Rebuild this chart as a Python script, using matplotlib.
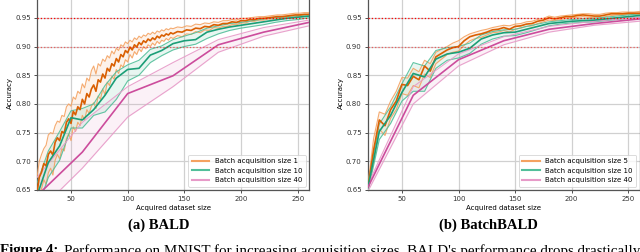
import numpy as np
import matplotlib
matplotlib.use("Agg")
import matplotlib.pyplot as plt
from matplotlib.lines import Line2D

# ---------------- data (accuracy in thousandths) ----------------
# BALD, acquisition size 1
bald1_x = list(range(20, 141, 2)) + list(range(144, 261, 4))
bald1_mean = [645, 672, 681, 696, 692, 712, 718, 711, 733, 741, 736, 752, 749, 768, 774, 766, 787, 781, 795, 790,
              808, 800, 818, 812, 826, 833, 822, 842, 838, 852, 845, 862, 857, 870, 866, 879, 873, 886, 882, 893,
              889, 899, 894, 903, 899, 907, 903, 910, 907, 913, 910, 915, 912, 918, 915, 920, 918, 922, 920, 924, 922,
              926, 925, 929, 928, 932, 931, 935, 934, 938, 937, 940, 940, 943, 942, 945, 945, 947, 947, 949, 949,
              950, 951, 952, 952, 953, 954, 955, 955, 956, 956]
bald1_upper = [672, 700, 712, 722, 728, 746, 750, 748, 762, 770, 768, 780, 778, 795, 800, 796, 812, 808, 822, 818,
               835, 828, 845, 840, 858, 866, 852, 870, 866, 878, 874, 884, 880, 892, 887, 897, 893, 903, 900, 908,
               905, 911, 908, 915, 912, 918, 915, 920, 918, 923, 921, 925, 922, 927, 925, 929, 927, 931, 929, 932, 931,
               934, 933, 936, 935, 939, 938, 941, 940, 943, 942, 945, 945, 947, 946, 949, 949, 950, 951, 952, 952,
               953, 954, 955, 955, 956, 957, 958, 958, 959, 959]
bald1_lower = [618, 640, 652, 668, 660, 680, 688, 676, 702, 712, 704, 722, 718, 740, 748, 736, 760, 752, 768, 762,
               780, 772, 790, 783, 796, 802, 792, 814, 808, 826, 816, 838, 832, 848, 843, 860, 853, 868, 864, 877,
               873, 886, 880, 891, 886, 896, 891, 900, 896, 903, 900, 906, 902, 909, 905, 911, 909, 914, 911, 916, 914,
               919, 917, 922, 921, 926, 924, 929, 928, 933, 932, 935, 935, 938, 938, 941, 941, 944, 944, 946, 946,
               948, 948, 949, 950, 951, 951, 952, 953, 953, 953]

# BALD, acquisition size 10
bald10_x = list(range(20, 261, 10))
bald10_mean = [640, 698, 727, 776, 772, 790, 815, 845, 860, 862, 885, 893, 905, 910, 912, 925, 930, 934, 937, 940,
               943, 946, 949, 951, 953]
bald10_upper = [662, 718, 752, 788, 792, 800, 832, 856, 868, 876, 895, 901, 912, 918, 924, 932, 936, 940, 942, 945,
                948, 950, 952, 954, 956]
bald10_lower = [615, 672, 702, 758, 758, 780, 786, 808, 840, 850, 872, 884, 894, 900, 904, 914, 922, 928, 932, 935,
                938, 942, 945, 947, 950]

# BALD, acquisition size 40
bald40_x = list(range(20, 261, 40))
bald40_mean = [640, 716, 818, 849, 903, 925, 942]
bald40_upper = [672, 768, 830, 872, 912, 933, 946]
bald40_lower = [610, 688, 777, 830, 890, 918, 936]

# BatchBALD, acquisition size 5
bb5_x = list(range(20, 261, 5))
bb5_mean = [655, 720, 772, 762, 790, 805, 834, 832, 848, 842, 866, 857, 882, 888, 894, 898, 900, 910, 917, 920,
            922, 925, 929, 930, 933, 930, 935, 936, 939, 940, 944, 946, 950, 948, 950, 952, 952, 954, 955, 954,
            953, 953, 955, 957, 957, 957, 958, 958, 958]
bb5_upper = [660, 740, 786, 782, 805, 822, 846, 845, 862, 856, 876, 870, 890, 895, 900, 906, 910, 917, 922, 925,
             928, 930, 933, 935, 937, 936, 939, 940, 943, 944, 947, 949, 953, 951, 953, 954, 955, 956, 957, 957,
             956, 956, 958, 959, 959, 960, 960, 960, 961]
bb5_lower = [650, 700, 756, 745, 775, 790, 818, 815, 832, 828, 852, 846, 870, 878, 886, 890, 892, 902, 910, 914,
             916, 920, 924, 925, 928, 925, 930, 932, 935, 936, 940, 943, 946, 945, 947, 949, 950, 951, 952, 951,
             950, 950, 952, 954, 955, 955, 956, 956, 956]

# BatchBALD, acquisition size 10
bb10_x = list(range(20, 261, 10))
bb10_mean = [655, 752, 780, 820, 853, 847, 878, 887, 890, 897, 913, 920, 924, 925, 930, 935, 940, 942, 944, 945,
             946, 948, 950, 952, 954]
bb10_upper = [662, 765, 795, 835, 872, 866, 893, 898, 900, 906, 920, 926, 929, 930, 935, 939, 943, 945, 947, 948,
              949, 951, 953, 955, 957]
bb10_lower = [648, 738, 766, 805, 822, 822, 862, 876, 880, 888, 904, 913, 918, 919, 924, 930, 936, 939, 941, 942,
              943, 945, 947, 949, 951]

# BatchBALD, acquisition size 40
bb40_x = list(range(20, 261, 40))
bb40_mean = [655, 815, 877, 910, 930, 940, 948]
bb40_upper = [660, 830, 887, 917, 935, 944, 951]
bb40_lower = [648, 800, 866, 903, 925, 937, 944]

bald_labels = ["Batch acquisition size 1", "Batch acquisition size 10", "Batch acquisition size 40"]
bb_labels = ["Batch acquisition size 5", "Batch acquisition size 10", "Batch acquisition size 40"]
x_ticks = [50, 100, 150, 200, 250]
y_ticks = [0.65, 0.70, 0.75, 0.80, 0.85, 0.90, 0.95]

# ---------------- styling ----------------
dark = ["#d95f02", "#1b9e77", "#cc4c9c"]
light = ["#f4a261", "#52bf9a", "#e79ac8"]

plt.rcParams["font.family"] = ["DejaVu Sans"]
fig = plt.figure(figsize=(6.4, 2.52), dpi=100)

W, H = 640.0, 252.0
def axes_px(x0, x1, ytop, ybot):
    return fig.add_axes([x0 / W, 1 - ybot / H, (x1 - x0) / W, (ybot - ytop) / H])

ax1 = axes_px(37, 309, -4, 190)
ax2 = axes_px(368, 639.5, -4, 190)

def draw(ax, series, labels):
    for i, (xs, m, u, l) in enumerate(series):
        xs = np.asarray(xs)
        m = np.asarray(m) / 1000.0
        u = np.asarray(u) / 1000.0
        l = np.asarray(l) / 1000.0
        ax.fill_between(xs, l, u, color=light[i], alpha=0.13, lw=0, zorder=2)
        ax.plot(xs, u, color=light[i], lw=0.8, alpha=0.9, zorder=3)
        ax.plot(xs, l, color=light[i], lw=0.8, alpha=0.9, zorder=3)
        ax.plot(xs, m, color=dark[i], lw=1.2, zorder=4)
    ax.axhline(0.95, color="red", ls=":", lw=0.9, zorder=5)
    ax.axhline(0.90, color="red", ls=":", lw=0.9, alpha=0.55, zorder=5)
    ax.set_xlim(20, 260)
    ax.set_ylim(0.65, 0.65 + 194 / 574.0)
    ax.set_xticks(x_ticks)
    ax.set_yticks(y_ticks)
    ax.set_yticklabels(["%.2f" % v for v in y_ticks])
    ax.grid(True, color="#d0d0d0", lw=0.9, zorder=0)
    ax.set_axisbelow(True)
    ax.tick_params(labelsize=5, length=2.5, width=0.6, pad=2, colors="#333333")
    for s in ax.spines.values():
        s.set_color("#555555")
        s.set_linewidth(0.9)
    ax.set_xlabel("Acquired dataset size", fontsize=5, labelpad=2)
    ax.set_ylabel("Accuracy", fontsize=5, labelpad=1.5)
    handles = [Line2D([], [], color=light[i], lw=1.5) for i in range(3)]
    leg = ax.legend(handles, labels, loc="lower right", fontsize=5, frameon=True,
                    borderpad=0.5, handlelength=2.5, labelspacing=0.5, fancybox=True)
    leg.get_frame().set_edgecolor("#cccccc")
    leg.get_frame().set_linewidth(0.6)

draw(ax1, [(bald1_x, bald1_mean, bald1_upper, bald1_lower),
           (bald10_x, bald10_mean, bald10_upper, bald10_lower),
           (bald40_x, bald40_mean, bald40_upper, bald40_lower)], bald_labels)
draw(ax2, [(bb5_x, bb5_mean, bb5_upper, bb5_lower),
           (bb10_x, bb10_mean, bb10_upper, bb10_lower),
           (bb40_x, bb40_mean, bb40_upper, bb40_lower)], bb_labels)

serif = ["Liberation Serif", "DejaVu Serif"]
fig.text(159 / W, 1 - 225 / H, "(a) BALD", family=serif, weight="bold", fontsize=10.5,
         ha="center", va="center")
fig.text(488 / W, 1 - 225 / H, "(b) BatchBALD", family=serif, weight="bold", fontsize=10.5,
         ha="center", va="center")

cap_y = 1 - 244 / H
t1 = fig.text(0.0, cap_y, "Figure 4:", family=serif, weight="bold", fontsize=10.8,
              ha="left", va="top")
fig.canvas.draw()
bb = t1.get_window_extent(renderer=fig.canvas.get_renderer())
fig.text(bb.x1 / W + 6 / W, cap_y,
         "Performance on MNIST for increasing acquisition sizes. BALD's performance drops drastically",
         family=serif, fontsize=10.8, ha="left", va="top")

fig.savefig("out.png", dpi=100)
